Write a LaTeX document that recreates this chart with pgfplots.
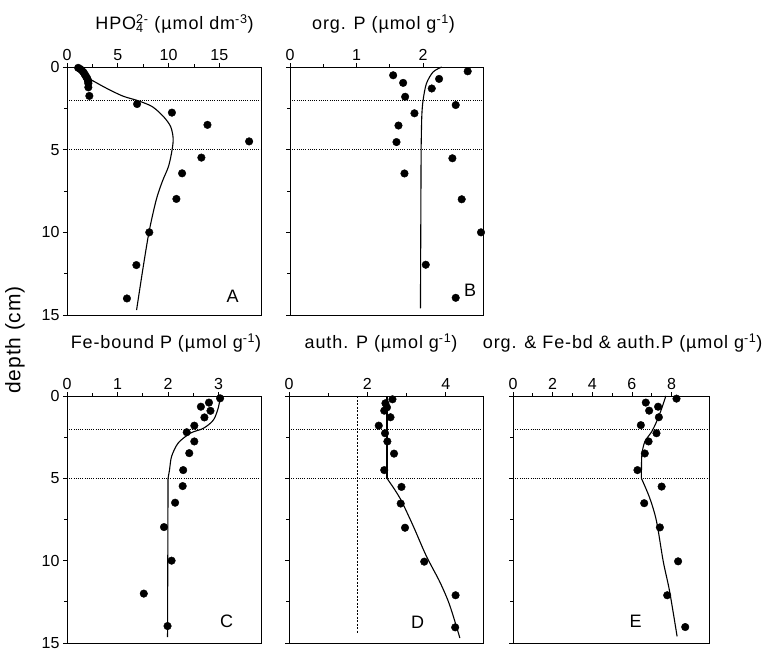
\documentclass[border=0pt]{standalone}
\usepackage{fontspec}
\setmainfont{Liberation Sans}
\usepackage{pgfplots}
\pgfplotsset{compat=1.18}
\newcommand{\tfont}{\fontsize{18}{20}\selectfont\addfontfeatures{LetterSpace=5}}
\pgfplotsset{
  panel/.style={
    scale only axis, height=247pt,
    xmin=0, ymin=0, ymax=15, y dir=reverse,
    axis line style={line width=1pt},
    xtick pos=upper, xticklabel pos=upper, ytick pos=left,
    tick align=outside, major tick length=4pt, minor tick length=3pt,
    tick style={line width=0.8pt, black},
    ytick={0,5,10,15}, minor y tick num=1, minor x tick num=1,
    /pgf/number format/assume math mode=true,
    ticklabel style={font=\fontsize{16}{16}\selectfont},
    xticklabel style={yshift=-1pt},
    clip=false,
  },
  dat/.style={only marks, mark=*, mark size=3.8pt, black},
  mod/.style={black, line width=1.1pt, no marks},
  hl/.style={black, line width=0.6pt, dash pattern=on 1pt off 1.2pt, no marks},
}
\begin{document}
\begin{tikzpicture}[x=1pt,y=1pt]
\useasboundingbox (0pt,0pt) rectangle (767pt,651pt);
% ---------- A ----------
\begin{axis}[panel, at={(67pt,336pt)}, anchor=south west, width=194pt, height=248pt,
  xmax=19.1, xtick={0,5,10,15}]
\addplot[hl] coordinates {(0,2) (19.1,2)};
\addplot[hl] coordinates {(0,5) (19.1,5)};
\addplot[mod, smooth, tension=0.5] coordinates {(0.8,0) (1.2,0.2) (1.7,0.5) (2.4,0.78) (3.9,1.29) (5.5,1.76) (7.0,2.04) (8.4,2.4) (9.5,3.0) (10.2,3.6) (10.45,4.3) (10.35,5.0) (10.0,6.0) (9.4,6.9) (8.8,8.0) (8.1,9.9) (7.5,12.1) (6.85,14.7)};
\addplot[dat] coordinates {(1.1,0.05) (1.3,0.12) (1.45,0.2) (1.6,0.3) (1.7,0.4) (1.8,0.5) (1.9,0.6) (2.0,0.7) (2.05,0.8) (2.1,0.9) (2.1,1.0)
 (2.1,1.23) (2.2,1.75) (6.9,2.24) (10.33,2.76) (13.83,3.5) (17.93,4.5) (13.23,5.48) (11.33,6.43) (10.77,7.98) (8.1,10.0) (6.83,11.98) (5.9,14.0)};
\end{axis}
% ---------- B ----------
\begin{axis}[panel, at={(290pt,336pt)}, anchor=south west, width=193pt, height=248pt,
  xmax=2.9, xtick={0,1,2}, yticklabels={}]
\addplot[hl] coordinates {(0,2) (2.9,2)};
\addplot[hl] coordinates {(0,5) (2.9,5)};
\addplot[mod, smooth, tension=0.5] coordinates {(2.28,0) (2.15,0.3) (2.05,1.0) (2.0,2.0) (1.98,3.0) (1.97,5)};
\addplot[mod] coordinates {(1.97,5) (1.96,14.6)};
\addplot[dat] coordinates {(1.55,0.5) (1.7,0.96) (1.73,1.8) (2.67,0.26) (2.24,0.72) (2.13,1.3) (2.49,2.3) (1.87,2.8) (1.63,3.54) (1.6,4.54) (2.44,5.52) (1.72,6.44) (2.58,8.0) (2.87,10.0) (2.04,11.96) (2.49,13.96)};
\end{axis}
% ---------- C ----------
\begin{axis}[panel, at={(67pt,8pt)}, anchor=south west, width=194pt,
  xmax=3.84, xtick={0,1,2,3}]
\addplot[hl] coordinates {(0,2) (3.84,2)};
\addplot[hl] coordinates {(0,5) (3.84,5)};
\addplot[mod, smooth, tension=0.5] coordinates {(3.03,0) (3.0,0.65) (2.9,1.45) (2.7,1.96) (2.44,2.26) (2.2,2.86) (2.07,3.67) (2.03,4.47) (2.0,5)};
\addplot[mod] coordinates {(2.0,5) (1.99,14.65)};
\addplot[dat] coordinates {(3.03,0.14) (2.81,0.4) (2.65,0.65) (2.84,0.9) (2.72,1.3) (2.52,1.8) (2.37,2.2) (2.52,2.76) (2.42,3.47) (2.3,4.5) (2.29,5.47) (2.14,6.48) (1.92,7.96) (2.07,10.0) (1.52,12.0) (1.99,13.97)};
\end{axis}
% ---------- D ----------
\begin{axis}[panel, at={(289pt,8pt)}, anchor=south west, width=194pt,
  xmax=4.95, xtick={0,2,4}, yticklabels={}]
\addplot[hl] coordinates {(0,2) (4.95,2)};
\addplot[hl] coordinates {(0,5) (4.95,5)};
\addplot[black, line width=0.7pt, dash pattern=on 2pt off 1.5pt, no marks] coordinates {(1.74,0) (1.74,14.4)};
\addplot[mod] coordinates {(2.5,0) (2.5,5)};
\addplot[mod, smooth, tension=0.5] coordinates {(2.5,5) (2.83,6.2) (3.17,7.9) (3.5,9.7) (3.85,11.3) (4.1,12.7) (4.36,14.7)};
\addplot[dat] coordinates {(2.64,0.2) (2.46,0.44) (2.5,0.69) (2.43,0.89) (2.59,1.29) (2.29,1.8) (2.45,2.26) (2.51,2.76) (2.68,3.5) (2.43,4.5) (2.87,5.52) (2.85,6.53) (2.96,8.0) (3.45,10.06) (4.25,12.1) (4.24,14.05)};
\end{axis}
% ---------- E ----------
\begin{axis}[panel, at={(513pt,8pt)}, anchor=south west, width=196pt,
  xmax=9.89, xtick={0,2,4,6,8}, yticklabels={}]
\addplot[hl] coordinates {(0,2) (9.89,2)};
\addplot[hl] coordinates {(0,5) (9.89,5)};
\addplot[mod, smooth, tension=0.5] coordinates {(7.71,0) (7.5,0.77) (7.24,1.57) (6.99,2.18) (6.65,2.78) (6.5,3.6) (6.48,5)};
\addplot[mod, smooth, tension=0.5] coordinates {(6.48,5) (6.9,6.2) (7.24,7.6) (7.58,10.04) (7.9,11.85) (8.28,14.6)};
\addplot[dat] coordinates {(8.25,0.16) (6.7,0.4) (7.32,0.65) (6.87,0.89) (7.36,1.29) (6.45,1.77) (7.24,2.26) (6.84,2.76) (6.65,3.49) (6.28,4.5) (7.5,5.5) (6.62,6.51) (7.41,7.98) (8.33,10.04) (7.78,12.1) (8.69,14.03)};
\end{axis}
% ---------- titles ----------
\node[anchor=base] at (174.5pt,621pt) {\tfont HPO\rlap{\textsubscript{4}}\textsuperscript{2-} (µmol dm\textsuperscript{-3})};
\node[anchor=base] at (383.5pt,621pt) {\tfont org. P (µmol g\textsuperscript{-1})};
\node[anchor=base] at (166pt,302pt) {\tfont Fe-bound P (µmol g\textsuperscript{-1})};
\node[anchor=base] at (381pt,302pt) {\tfont auth. P (µmol g\textsuperscript{-1})};
\node[anchor=base east] at (766pt,302pt) {\tfont org. \& Fe-bd \& auth.P (µmol g\textsuperscript{-1})};
% ---------- panel letters ----------
\node at (232.7pt,354.3pt) {\fontsize{18}{18}\selectfont A};
\node at (470pt,361pt) {\fontsize{18}{18}\selectfont B};
\node at (226.7pt,29.3pt) {\fontsize{18}{18}\selectfont C};
\node at (417.7pt,28.7pt) {\fontsize{18}{18}\selectfont D};
\node at (635.7pt,29.3pt) {\fontsize{18}{18}\selectfont E};
% ---------- y label ----------
\node[rotate=90] at (15pt,311pt) {\fontsize{21}{21}\selectfont\addfontfeatures{LetterSpace=4}depth (cm)};
\end{tikzpicture}
\end{document}
